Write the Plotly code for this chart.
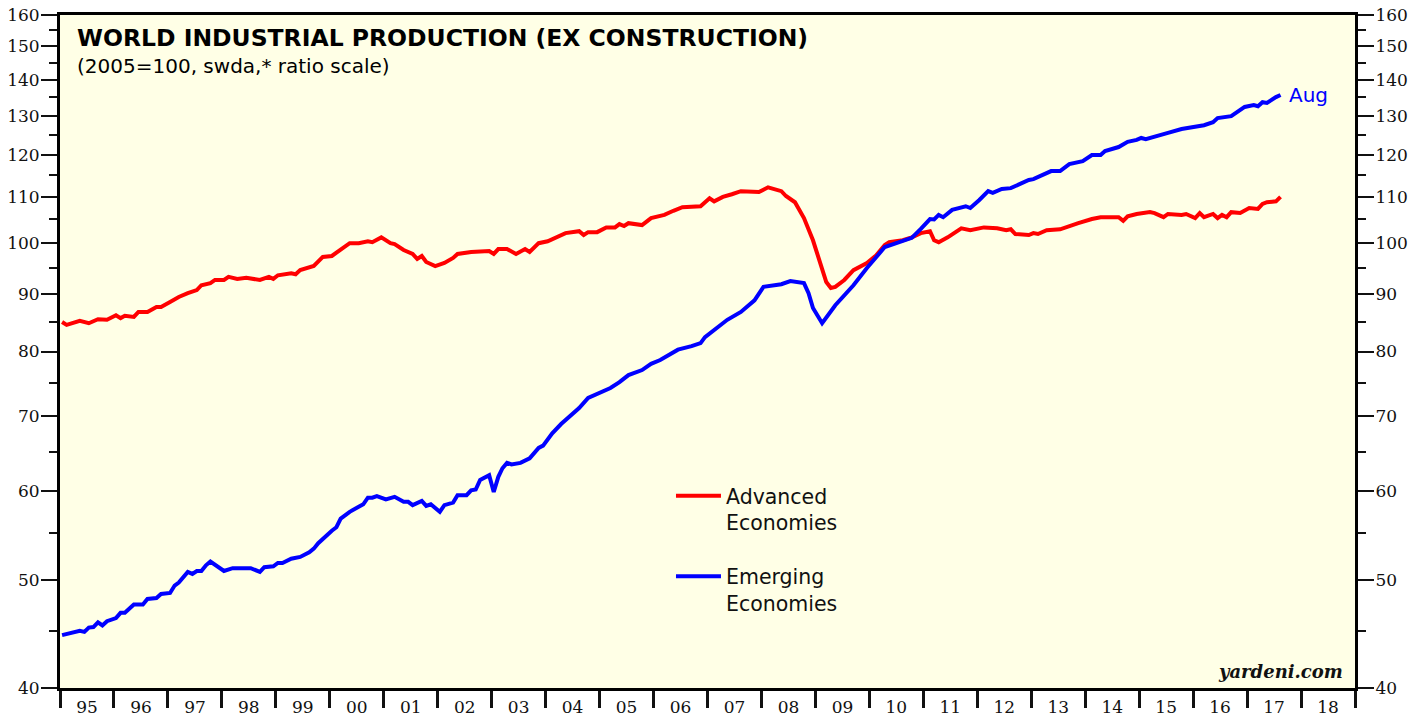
import math
import plotly.graph_objects as go

# ---------------- data ----------------
adv_dates = ["1995-01","1995-02","1995-05","1995-07","1995-09","1995-11",
 "1996-01","1996-02","1996-03","1996-05","1996-06","1996-08","1996-10","1996-11",
 "1997-01","1997-03","1997-05","1997-07","1997-08","1997-10","1997-11",
 "1998-01","1998-02","1998-04","1998-06","1998-09","1998-11","1998-12",
 "1999-01","1999-04","1999-05","1999-06","1999-09","1999-10","1999-11",
 "2000-01","2000-03","2000-05","2000-07","2000-09","2000-10","2000-12",
 "2001-02","2001-03","2001-05","2001-07","2001-08","2001-09","2001-10","2001-12",
 "2002-02","2002-04","2002-05","2002-08","2002-12",
 "2003-01","2003-02","2003-04","2003-06","2003-08","2003-09","2003-11",
 "2004-01","2004-03","2004-05","2004-08","2004-09","2004-10","2004-12",
 "2005-02","2005-04","2005-05","2005-06","2005-07","2005-10","2005-12",
 "2006-03","2006-05","2006-07","2006-11",
 "2007-01","2007-02","2007-04","2007-06","2007-08","2007-12",
 "2008-02","2008-05","2008-06","2008-08","2008-10","2008-12",
 "2009-02","2009-03","2009-04","2009-05","2009-07","2009-09","2009-12",
 "2010-02","2010-04","2010-05","2010-08","2010-10","2010-12",
 "2011-02","2011-03","2011-04","2011-06","2011-08","2011-09","2011-11",
 "2012-02","2012-05","2012-07","2012-08","2012-09","2012-12",
 "2013-01","2013-02","2013-04","2013-07","2013-09","2013-11",
 "2014-02","2014-04","2014-08","2014-09","2014-10","2014-12",
 "2015-03","2015-04","2015-06","2015-07","2015-10","2015-11",
 "2016-01","2016-02","2016-03","2016-05","2016-06","2016-07","2016-08","2016-09","2016-11",
 "2017-01","2017-03","2017-04","2017-05","2017-07","2017-08"]
adv_values = [85.0,84.5,85.2,84.8,85.5,85.4,
 86.2,85.7,86.1,85.9,86.8,86.8,87.7,87.7,
 88.6,89.5,90.2,90.8,91.7,92.1,92.7,
 92.7,93.3,92.9,93.1,92.7,93.3,92.9,
 93.6,94.0,93.8,94.6,95.4,96.2,97.2,
 97.4,98.6,100.0,100.0,100.4,100.2,101.2,
 100.0,99.8,98.6,97.8,96.8,97.4,96.2,95.4,
 96.0,97.0,97.8,98.2,98.4,
 97.8,98.8,98.8,97.8,98.8,98.2,100.0,
 100.4,101.2,102.1,102.5,101.7,102.3,102.3,
 103.3,103.3,104.0,103.6,104.2,103.8,105.3,
 106.0,106.9,107.7,107.9,
 109.7,109.0,110.0,110.6,111.3,111.1,
 112.2,111.3,110.2,108.8,105.3,100.6,
 94.9,92.3,91.2,91.4,92.7,94.6,96.0,
 97.5,99.6,100.2,100.6,101.2,102.1,
 102.5,100.6,100.2,101.2,102.3,103.1,102.7,
 103.3,103.1,102.7,102.9,101.9,101.7,
 102.1,101.9,102.7,102.9,103.6,104.2,
 105.1,105.5,105.5,104.7,105.7,106.2,
 106.6,106.4,105.5,106.2,106.0,106.2,
 105.3,106.4,105.5,106.2,105.3,106.0,105.5,106.6,106.4,
 107.5,107.3,108.4,108.8,109.0,110.0]

emg_dates = ["1995-01","1995-03","1995-05","1995-06","1995-07","1995-08","1995-09","1995-10","1995-11",
 "1996-01","1996-02","1996-03","1996-05","1996-07","1996-08","1996-10","1996-11",
 "1997-01","1997-02","1997-03","1997-05","1997-06","1997-07","1997-08","1997-09","1997-10","1997-12",
 "1998-01","1998-03","1998-05","1998-07","1998-09","1998-10","1998-12",
 "1999-01","1999-02","1999-04","1999-06","1999-08","1999-09","1999-10",
 "2000-01","2000-02","2000-03","2000-05","2000-07","2000-08","2000-09","2000-10","2000-11",
 "2001-01","2001-03","2001-05","2001-06","2001-07","2001-09","2001-10","2001-11",
 "2002-01","2002-02","2002-04","2002-05","2002-07","2002-08","2002-09","2002-10","2002-12",
 "2003-01","2003-02","2003-03","2003-04","2003-05","2003-07","2003-09","2003-11","2003-12",
 "2004-01","2004-02","2004-04","2004-06","2004-08","2004-10",
 "2005-01","2005-03","2005-05","2005-07","2005-10","2005-12",
 "2006-02","2006-04","2006-06","2006-09","2006-11","2006-12",
 "2007-02","2007-05","2007-08","2007-11",
 "2008-01","2008-05","2008-07","2008-10","2008-11","2008-12",
 "2009-02","2009-05","2009-09","2009-12",
 "2010-04","2010-07","2010-10","2010-12",
 "2011-02","2011-03","2011-04","2011-05","2011-07","2011-10","2011-11",
 "2012-01","2012-03","2012-04","2012-06","2012-08","2012-12",
 "2013-01","2013-03","2013-05","2013-07","2013-09","2013-12",
 "2014-02","2014-04","2014-05","2014-08","2014-10","2014-12",
 "2015-01","2015-02","2015-05","2015-07","2015-10",
 "2016-01","2016-03","2016-05","2016-06","2016-09","2016-10","2016-12",
 "2017-02","2017-03","2017-04","2017-05","2017-07","2017-08"]
emg_values = [44.6,44.8,45.0,44.9,45.3,45.35,45.8,45.5,45.9,
 46.2,46.7,46.7,47.5,47.5,48.05,48.15,48.55,
 48.65,49.4,49.7,50.8,50.6,50.9,50.9,51.5,51.9,51.3,
 50.9,51.2,51.2,51.2,50.8,51.3,51.4,
 51.75,51.75,52.2,52.4,52.9,53.3,53.9,
 55.3,55.7,56.7,57.5,58.1,58.4,59.2,59.2,59.4,
 59.0,59.3,58.7,58.7,58.3,58.8,58.2,58.4,
 57.5,58.3,58.6,59.5,59.5,60.1,60.2,61.4,62.0,
 59.9,61.8,62.9,63.6,63.4,63.6,64.2,65.6,65.9,
 66.7,67.6,68.9,70.0,71.2,72.7,
 73.6,74.2,75.1,76.2,77.0,78.0,
 78.6,79.4,80.3,80.9,81.4,82.4,
 83.6,85.4,86.8,88.9,
 91.4,91.9,92.5,92.1,90.2,87.5,
 84.8,88.0,91.7,95.0,
 99.2,100.1,101.1,103.0,
 105.1,105.0,106.0,105.5,107.1,107.9,107.5,
 109.3,111.3,110.9,111.8,112.0,113.9,
 114.1,115.1,116.0,116.0,117.7,118.4,
 119.9,119.9,120.9,121.9,123.2,123.7,
 124.2,123.9,124.7,125.5,126.5,
 127.0,127.5,128.3,129.4,129.9,130.7,132.4,
 132.9,132.6,133.7,133.5,135.1,135.7]

y_ticks = [40, 50, 60, 70, 80, 90, 100, 110, 120, 130, 140, 150, 160]
y_minor = [45, 55, 65, 75, 85, 95, 105, 115, 125, 135, 145, 155]

# ---------------- figure ----------------
def mid(d):
    return d + "-15"

fig = go.Figure()
fig.add_trace(go.Scatter(x=[mid(d) for d in adv_dates], y=adv_values,
                         mode="lines", name="Advanced<br>Economies",
                         legendgroup="a", yaxis="y",
                         line=dict(color="#FF0000", width=4)))
fig.add_trace(go.Scatter(x=[mid(d) for d in emg_dates], y=emg_values,
                         mode="lines", name="Emerging<br>Economies",
                         legendgroup="b", yaxis="y2",
                         line=dict(color="#0000FF", width=4)))

serif = dict(family="DejaVu Serif", size=17, color="#111111")
sans = "DejaVu Sans"
yr = [math.log10(40) - 1e-7, math.log10(160) + 1e-7]

yax_common = dict(type="log", range=yr, tickvals=y_ticks,
                  ticktext=[str(v) for v in y_ticks],
                  ticks="outside", ticklen=16, tickwidth=2, tickcolor="#111111",
                  minor=dict(tickvals=y_minor, ticks="outside", ticklen=8,
                             tickwidth=2, tickcolor="#111111", showgrid=False),
                  showgrid=False, zeroline=False, tickfont=serif,
                  ticklabelstandoff=-2, ticklabeloverflow="allow",
                  showline=True, linewidth=3, linecolor="#000000",
                  automargin=False, fixedrange=True)

# the page body adds an 8 px offset, so the figure is sized 8 px smaller
fig.update_layout(
    width=1418, height=713,
    margin=dict(l=52, r=71, t=7, b=33, autoexpand=False),
    paper_bgcolor="#FFFFFF", plot_bgcolor="#FFFFE6",
    xaxis=dict(type="date", range=["1995-01-01", "2019-01-01"],
               tick0="1995-01-01", dtick="M12",
               tickformat="%y", ticklabelmode="period",
               ticks="outside", ticklen=17, tickwidth=3, tickcolor="#111111",
               ticklabelstandoff=-15, ticklabeloverflow="allow", automargin=False,
               showgrid=False, zeroline=False, tickfont=serif,
               showline=True, linewidth=3, linecolor="#000000", mirror=True),
    yaxis=dict(**yax_common, side="left"),
    yaxis2=dict(**yax_common, side="right", overlaying="y", anchor="x"),
    showlegend=True,
    legend=dict(x=0.4718, y=0.315, xanchor="left", yanchor="top",
                bgcolor="rgba(0,0,0,0)", font=dict(family=sans, size=20.5, color="#111111"),
                traceorder="grouped", tracegroupgap=24, valign="top",
                itemwidth=45),
)

fig.add_annotation(xref="paper", yref="paper", x=0.0116, y=0.99,
                   xanchor="left", yanchor="top", showarrow=False,
                   text="<b>WORLD INDUSTRIAL PRODUCTION (EX CONSTRUCTION)</b>",
                   font=dict(family=sans, size=23.5, color="#000000"))
fig.add_annotation(xref="paper", yref="paper", x=0.0116, y=0.945,
                   xanchor="left", yanchor="top", showarrow=False,
                   text="(2005=100, swda,* ratio scale)",
                   font=dict(family=sans, size=20, color="#000000"))
fig.add_annotation(x=mid(emg_dates[-1]), y=math.log10(emg_values[-1]), yref="y2",
                   xanchor="left", yanchor="middle", xshift=6, showarrow=False,
                   text="Aug", font=dict(family=sans, size=20, color="#0000FF"))
fig.add_annotation(xref="paper", yref="paper", x=0.9925, y=0.024,
                   xanchor="right", yanchor="middle", showarrow=False,
                   text="<b><i>yardeni.com</i></b>",
                   font=dict(family="DejaVu Serif", size=18, color="#111111"))

fig.write_html("out.html")
